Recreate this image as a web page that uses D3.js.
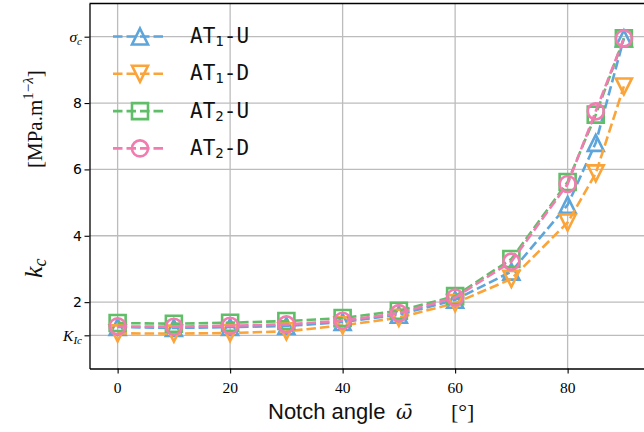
<!DOCTYPE html>
<html><head><meta charset="utf-8">
<script src="https://cdn.jsdelivr.net/npm/d3@7"></script>
<style>body{margin:0;background:#fff} svg{display:block}</style></head>
<body><svg id="c" width="644" height="432"></svg>
<script>
const angles=[0,10,20,30,40,50,60,70,80,85,90];
const at1U=[1.25,1.22,1.25,1.28,1.40,1.62,2.07,2.92,4.93,6.80,9.95];
const at1D=[1.06,1.05,1.07,1.12,1.30,1.53,1.97,2.70,4.40,5.88,8.50];
const at2U=[1.37,1.35,1.38,1.43,1.52,1.74,2.18,3.30,5.62,7.65,9.95];
const at2D=[1.27,1.26,1.29,1.33,1.44,1.67,2.14,3.22,5.56,7.75,9.95];
const xTicks=[0,20,40,60,80];
const xTickLabels=["0","20","40","60","80"];
const yTicks=[1,2,4,6,8,10];
const yTickLabels=["K_Ic","2","4","6","8","σ_c"];
const names=[["AT","1","-U"],["AT","1","-D"],["AT","2","-U"],["AT","2","-D"]];
const colors=["#5DA5DA","#FAA43A","#60BD68","#F17CB0"];
const markers=["triUp","triDown","square","circle"];
const seriesVals=[at1U,at1D,at2U,at2D];

const svg=d3.select("#c");
const L=89.5,T=3.5,B=368.5,R=652;
const x=d3.scaleLinear().domain([-5,95]).range([L,R]);
const y=d3.scaleLinear().domain([0,11]).range([B,T]);

// grid
const g=svg.append("g");
g.selectAll(".gx").data(xTicks).enter().append("line")
 .attr("x1",d=>x(d)).attr("x2",d=>x(d)).attr("y1",T).attr("y2",B)
 .attr("stroke","#bcbcbc").attr("stroke-width",1.3);
g.selectAll(".gy").data(yTicks).enter().append("line")
 .attr("x1",L).attr("x2",R).attr("y1",d=>y(d)).attr("y2",d=>y(d))
 .attr("stroke","#bcbcbc").attr("stroke-width",1.3);

// axes
const ax=svg.append("g").attr("transform",`translate(0,${B})`)
 .call(d3.axisBottom(x).tickValues(xTicks).tickSize(5).tickSizeOuter(0).tickFormat(""));
const ay=svg.append("g").attr("transform",`translate(${L},0)`)
 .call(d3.axisLeft(y).tickValues(yTicks).tickSize(5).tickSizeOuter(0).tickFormat(""));
[ax,ay].forEach(a=>{a.select(".domain").attr("stroke","#000").attr("stroke-width",1.3);
 a.selectAll(".tick line").attr("stroke","#000").attr("stroke-width",1.1);});
svg.append("line").attr("x1",L).attr("x2",R).attr("y1",T).attr("y2",T).attr("stroke","#000").attr("stroke-width",1.3);

// x tick labels
svg.selectAll(".xl").data(xTicks).enter().append("text")
 .attr("x",d=>x(d)).attr("y",392.5).attr("text-anchor","middle")
 .attr("font-family","Liberation Serif").attr("font-size",15.5)
 .text((d,i)=>xTickLabels[i]);

// y tick labels
yTicks.forEach((v,i)=>{
 const lab=yTickLabels[i];
 const t=svg.append("text").attr("x",82).attr("y",y(v)).attr("dy","0.36em").attr("text-anchor","end");
 if(lab.includes("_")){
  const [a,b]=lab.split("_");
  t.attr("font-family","Liberation Serif").attr("font-size",15.5);
  t.append("tspan").attr("font-style","italic").text(a);
  t.append("tspan").attr("font-style","italic").attr("font-size",11).attr("dy",3).text(b);
 } else {
  t.attr("font-family","DejaVu Sans").attr("font-size",14).text(lab);
 }
});

function markerPath(type,m){
 const h=m/2;
 if(type==="triUp") return `M0,${-h}L${h},${h}L${-h},${h}Z`;
 if(type==="triDown") return `M0,${h}L${h},${-h}L${-h},${-h}Z`;
 if(type==="square") return `M${-h},${-h}H${h}V${h}H${-h}Z`;
 return `M${h},0A${h},${h} 0 1,1 ${-h},0A${h},${h} 0 1,1 ${h},0Z`;
}
const MS=16;
const line=d3.line().x(d=>x(d[0])).y(d=>y(d[1]));
seriesVals.forEach((vals,si)=>{
 const pts=angles.map((a,i)=>[a,vals[i]]);
 const sg=svg.append("g");
 sg.append("path").attr("d",line(pts)).attr("fill","none").attr("stroke",colors[si])
  .attr("stroke-width",2.6).attr("stroke-dasharray","9.5,4");
 sg.selectAll("path.m").data(pts).enter().append("path").attr("class","m")
  .attr("transform",d=>`translate(${x(d[0])},${y(d[1])})`)
  .attr("d",markerPath(markers[si],MS)).attr("fill","none")
  .attr("stroke",colors[si]).attr("stroke-width",2.6);
});

// legend
const legY=[36.5,73.8,111.1,148.4];
names.forEach((n,i)=>{
 const lg=svg.append("g").attr("transform",`translate(0,${legY[i]})`);
 lg.append("line").attr("x1",113).attr("x2",163).attr("y1",0).attr("y2",0)
  .attr("stroke",colors[i]).attr("stroke-width",2.6).attr("stroke-dasharray","9.5,4");
 lg.append("path").attr("transform","translate(140,0)").attr("d",markerPath(markers[i],MS))
  .attr("fill","none").attr("stroke",colors[i]).attr("stroke-width",2.6);
 const t=lg.append("text").attr("x",190).attr("y",6.5).attr("font-family","DejaVu Sans Mono").attr("font-size",21).attr("fill","#111");
 t.append("tspan").text(n[0]);
 t.append("tspan").attr("font-size",14).attr("dy",3).text(n[1]);
 t.append("tspan").attr("dy",-3).text(n[2]);
});

// y label
const yl1=svg.append("text").attr("transform","translate(42,278) rotate(-90)")
 .attr("font-family","Liberation Serif").attr("font-size",26).attr("fill","#111");
yl1.append("tspan").attr("font-style","italic").text("k");
yl1.append("tspan").attr("font-style","italic").attr("font-size",18).attr("dy",4).text("c");
const yl2=svg.append("text").attr("transform","translate(42,168) rotate(-90)")
 .attr("font-family","Liberation Serif").attr("font-size",21).attr("fill","#111");
yl2.append("tspan").text("[MPa.m");
yl2.append("tspan").attr("font-size",15).attr("dy",-9).text("1−");
yl2.append("tspan").attr("font-size",15).attr("font-style","italic").text("λ");
yl2.append("tspan").attr("dy",9).text("]");

// x label
const xl=svg.append("text").attr("y",419).attr("font-size",22).attr("fill","#111");
xl.append("tspan").attr("x",268).attr("font-family","Liberation Sans").text("Notch angle");
xl.append("tspan").attr("x",396).attr("font-family","DejaVu Serif").attr("font-style","italic").attr("font-size",20).text("\u03C9\u0304");
xl.append("tspan").attr("x",451).attr("font-family","Liberation Serif").text("[°]");
</script></body></html>
